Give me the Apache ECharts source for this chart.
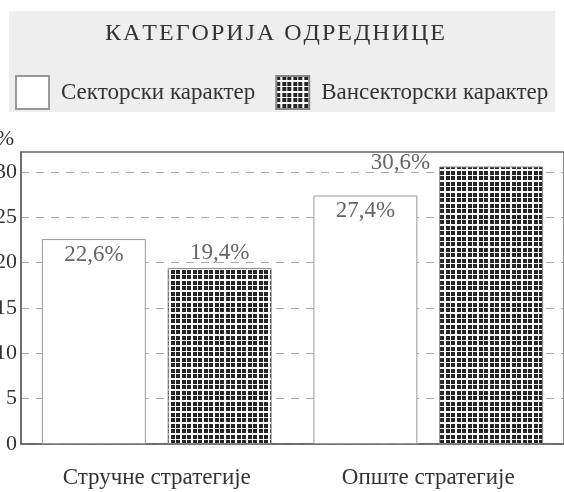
<!DOCTYPE html>
<html lang="sr">
<head>
<meta charset="utf-8">
<title>Категорија одреднице</title>
<style>
  *{padding:0;margin:0;}
  html,body{width:564px;height:492px;background:#fff;}
  #chart{width:564px;height:492px;}
</style>
</head>
<body>
<div id="chart"></div>
<script src="https://cdn.jsdelivr.net/npm/echarts@6/dist/echarts.min.js"></script>
<script>
// podaci
var categories = ['Стручне стратегије', 'Опште стратегије'];
var sektorski = [22.6, 27.4];
var vansektorski = [19.4, 30.6];
var seriesNames = ['Секторски карактер', 'Вансекторски карактер'];
var titleText = 'КАТЕГОРИЈА ОДРЕДНИЦЕ';

var serif = '"Liberation Serif", "DejaVu Serif", serif';

// razmaknuta slova naslova (hair space)
function spaced(s) {
    return s.split('').join('\u200A');
}

// sitna mreža za vansektorske stubove
function makePattern() {
    var c = document.createElement('canvas');
    c.width = 11; c.height = 11;
    var ctx = c.getContext('2d');
    ctx.fillStyle = '#fff';
    ctx.fillRect(0, 0, 11, 11);
    ctx.fillStyle = '#262626';
    var cells = [[0, 4], [6, 4]];
    cells.forEach(function (a) {
        cells.forEach(function (b) {
            ctx.fillRect(a[0], b[0], a[1], b[1]);
        });
    });
    return c;
}
var pattern = { image: makePattern(), repeat: 'repeat' };

function fmt(p) {
    return p.value.toFixed(1).replace('.', ',') + '%';
}

var chart = echarts.init(document.getElementById('chart'));
var option = {
    backgroundColor: '#fff',
    animation: false,
    graphic: [{
        type: 'rect',
        left: 9, top: 11,
        shape: { width: 546, height: 101 },
        style: { fill: '#eeeeee' },
        z: -10
    }],
    title: {
        text: spaced(titleText),
        left: 275,
        top: 22,
        padding: 0,
        textAlign: 'center',
        textStyle: { fontFamily: serif, fontSize: 24, fontWeight: 'normal', color: '#333' }
    },
    legend: {
        data: seriesNames,
        left: 15,
        top: 75,
        padding: 0,
        itemWidth: 33,
        itemHeight: 33,
        itemGap: 20,
        icon: 'rect',
        textStyle: { fontFamily: serif, fontSize: 23, color: '#333', padding: [0, 0, 0, 7] }
    },
    grid: {
        left: 21, right: 0, top: 152, bottom: 48,
        outerBoundsMode: 'none',
        containLabel: false,
        show: true,
        borderColor: '#666',
        borderWidth: 1.5,
        backgroundColor: 'transparent'
    },
    xAxis: {
        type: 'category',
        data: categories,
        axisLine: { lineStyle: { color: '#666', width: 1.5 } },
        axisTick: { show: false },
        axisLabel: { fontFamily: serif, fontSize: 23, color: '#333', margin: 22 }
    },
    yAxis: {
        type: 'value',
        min: 0, max: 32.2, interval: 5,
        name: '%',
        nameLocation: 'end',
        nameGap: 2,
        nameTextStyle: { fontFamily: serif, fontSize: 22, color: '#333', align: 'right', padding: [0, 7, 0, 0] },
        axisLine: { show: true, lineStyle: { color: '#666', width: 1.5 } },
        axisTick: { show: false },
        axisLabel: { fontFamily: serif, fontSize: 22, color: '#333', margin: 4, showMaxLabel: false },
        splitLine: {
            showMaxLine: false,
            lineStyle: { color: '#aaa', type: [8, 7], width: 1 }
        }
    },
    series: [{
        name: seriesNames[0],
        type: 'bar',
        data: sektorski,
        barGap: '21%',
        barCategoryGap: '15.4%',
        itemStyle: { color: '#fff', borderColor: '#999', borderWidth: 1 },
        label: {
            show: true, position: 'insideTop', distance: 4,
            formatter: fmt,
            fontFamily: serif, fontSize: 23, color: '#666'
        }
    }, {
        name: seriesNames[1],
        type: 'bar',
        data: vansektorski.map(function (v, i) {
            if (i === 1) {
                return { value: v, label: { position: [-9, -4], align: 'right', verticalAlign: 'middle' } };
            }
            return v;
        }),
        itemStyle: { color: pattern, borderColor: '#888', borderWidth: 1 },
        label: {
            show: true, position: 'top', distance: 4,
            formatter: fmt,
            fontFamily: serif, fontSize: 23, color: '#666'
        }
    }]
};
chart.setOption(option);
</script>
</body>
</html>
